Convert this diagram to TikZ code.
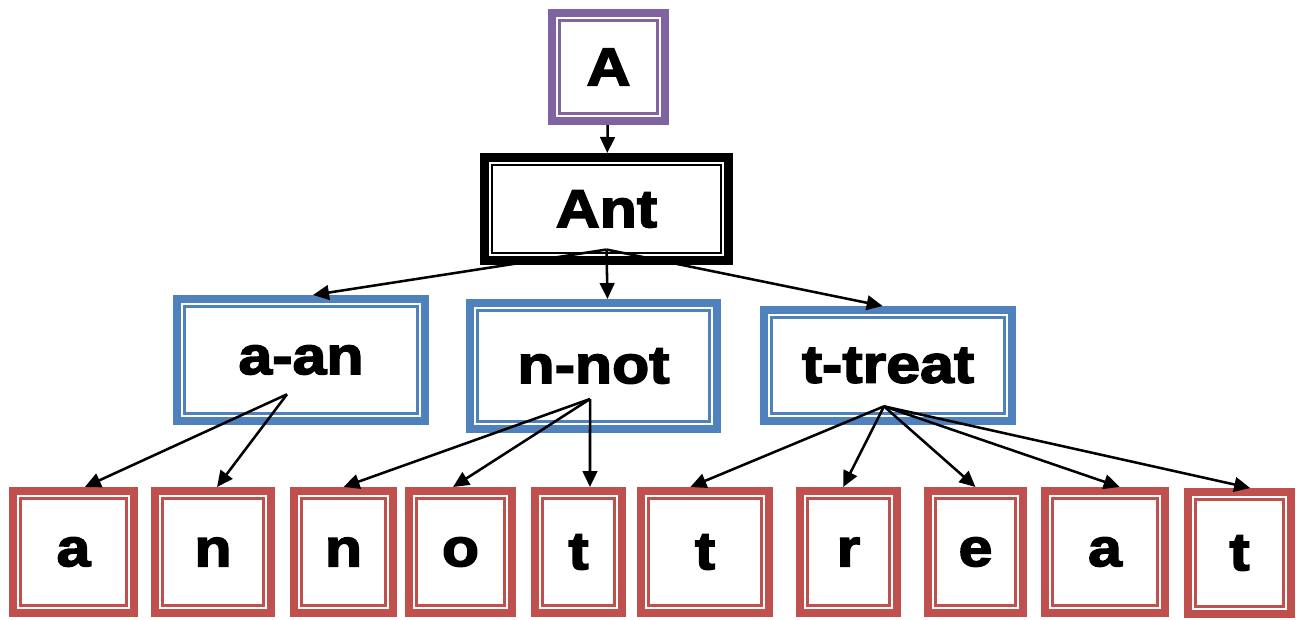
\documentclass[tikz,border=0pt]{standalone}
\usepackage{fontspec}
\usetikzlibrary{arrows.meta}
\newfontfamily\heavy{Liberation Sans Bold}[FakeBold=3,FakeStretch=1.14]
\definecolor{rootc}{RGB}{128,100,162}
\definecolor{midc}{RGB}{79,129,189}
\definecolor{leafc}{RGB}{192,80,77}

\begin{document}
\begin{tikzpicture}[x=0.75pt,y=-0.75pt,->,>={Triangle[length=12pt,width=11pt]},
    every edge/.style={draw,line width=1.9pt},
    box/.style={draw=#1,fill=white,line width=6pt,inner sep=0pt,
      font=\heavy\fontsize{40}{48}\selectfont,
      path picture={\draw[#1,line width=1.8pt]
        ([shift={(5.5pt,5.5pt)}]path picture bounding box.south west) rectangle
        ([shift={(-5.5pt,-5.5pt)}]path picture bounding box.north east);}},
    root node/.style={box=rootc},
    word node/.style={box=black,line width=6.75pt},
    rule node/.style={box=midc},
    letter node/.style={box=leafc,minimum height=91.5pt}]

\useasboundingbox (0,0) rectangle (1296,619);

\node[root node, minimum width=84.75pt, minimum height=81pt] (A) at (608.5,67) {A};
\node[word node, minimum width=183pt, minimum height=77.25pt] (Ant) at (606.5,209) {Ant};

\node[rule node, minimum width=186pt, minimum height=91.5pt] (aan) at (301,360) {a-an};
\node[rule node, minimum width=185.25pt, minimum height=94.5pt] (nnot) at (593.5,366) {n-not};
\node[rule node, minimum width=186pt, minimum height=83.25pt] (ttreat) at (888,365.5) {t-treat};

\node[letter node, minimum width=90.75pt] (a1) at (73.5,552) {a};
\node[letter node, minimum width=87pt] (n1) at (213,552) {n};
\node[letter node, minimum width=74.25pt] (n2) at (343.5,552) {n};
\node[letter node, minimum width=77.25pt] (o1) at (460.5,552) {o};
\node[letter node, minimum width=65.25pt] (t1) at (578.5,552) {t};
\node[letter node, minimum width=96pt] (t2) at (705,552) {t};
\node[letter node, minimum width=72.75pt] (r1) at (848.5,552) {r};
\node[letter node, minimum width=71.25pt] (e1) at (975.5,552) {e};
\node[letter node, minimum width=90pt] (a2) at (1105,552) {a};
\node[letter node, minimum width=77.25pt] (t3) at (1239.5,553) {t};

\path (A) edge (Ant);

\path ([yshift=11.6pt]Ant.south)
  edge ([xshift=9pt]aan.north)
  edge ([xshift=10.5pt]nnot.north)
  edge ([xshift=-4pt]ttreat.north);

\path ([shift={(-10.5pt,23pt)}]aan.south)
  edge ([xshift=8.5pt]a1.north)
  edge ([xshift=3pt]n1.north);

\path ([shift={(-2.6pt,25.5pt)}]nnot.south)
  edge (n2.north)
  edge ([xshift=-5.6pt]o1.north)
  edge ([xshift=8.6pt]t1.north);

\path ([shift={(-3pt,14pt)}]ttreat.south)
  edge ([xshift=-11pt]t2.north)
  edge ([xshift=-4pt]r1.north)
  edge (e1.north)
  edge ([xshift=11pt]a2.north)
  edge ([xshift=8pt]t3.north);

\end{tikzpicture}
\end{document}
